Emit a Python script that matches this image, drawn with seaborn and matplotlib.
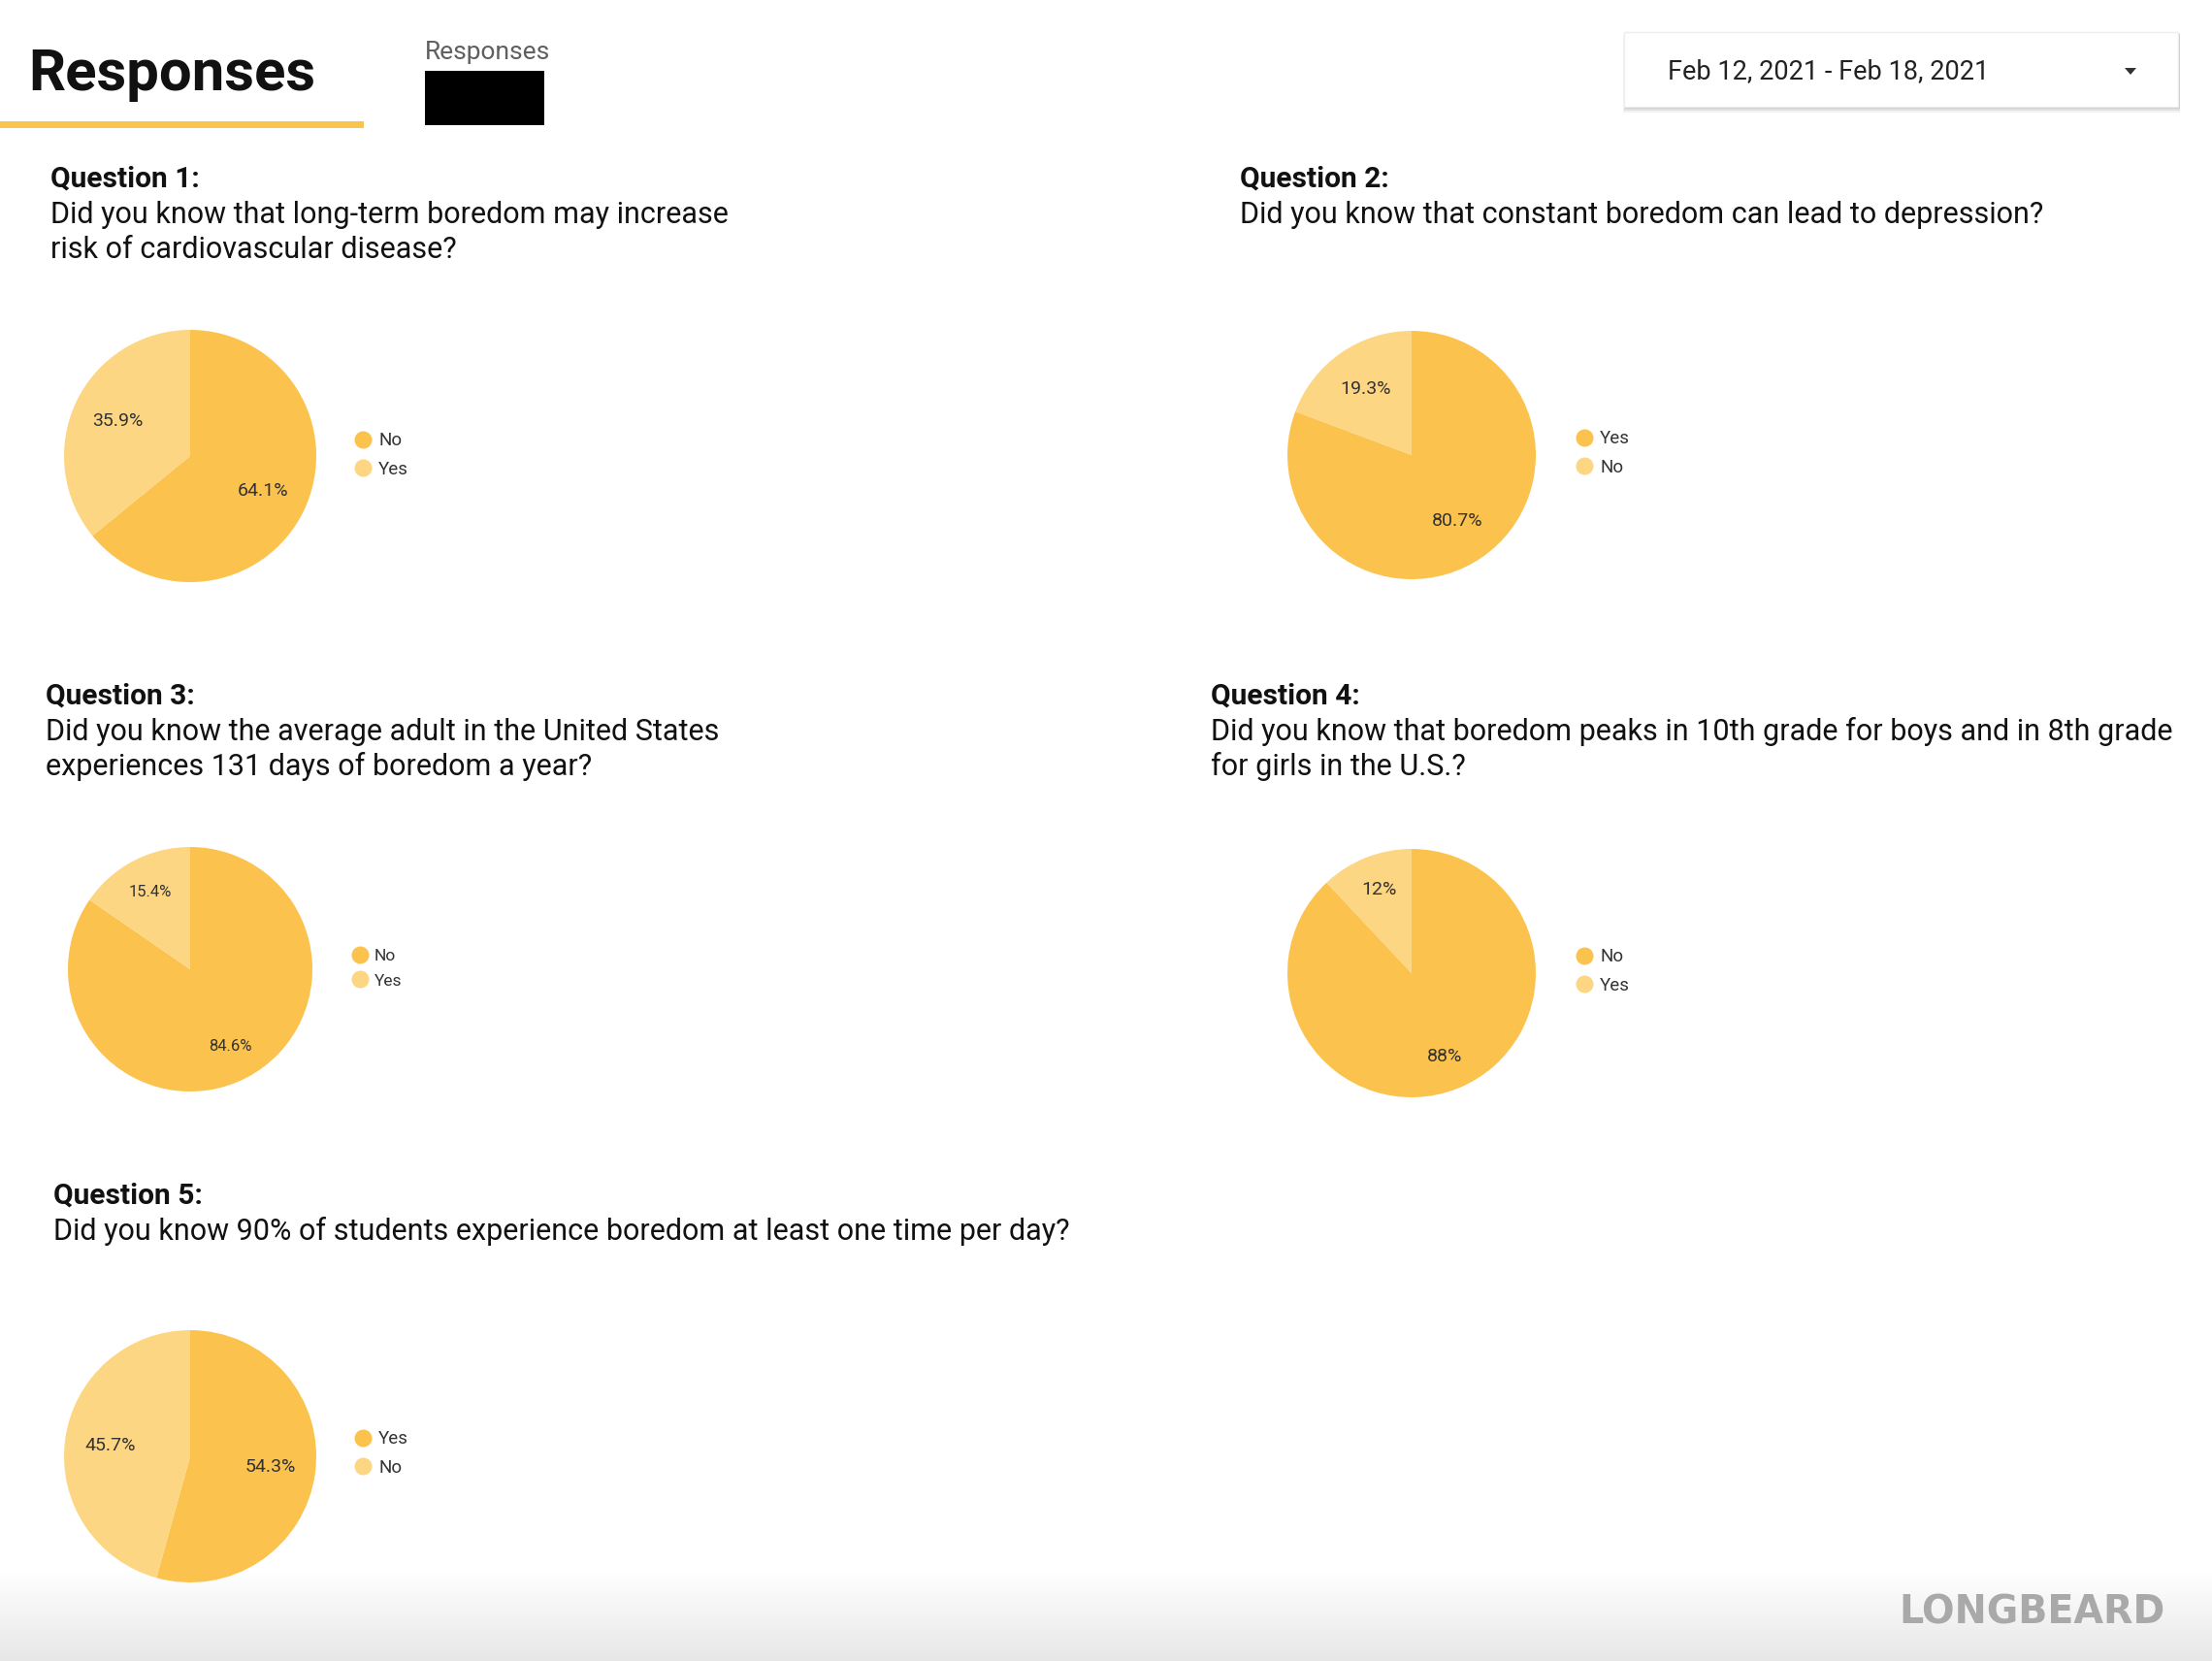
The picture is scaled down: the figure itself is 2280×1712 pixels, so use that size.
import matplotlib
matplotlib.use("Agg")
import numpy as np
import matplotlib.pyplot as plt
from matplotlib.lines import Line2D
from matplotlib.patches import Rectangle, Polygon
import seaborn as sns

# --- data -------------------------------------------------------------
q_titles = ["Question 1:", "Question 2:", "Question 3:", "Question 4:", "Question 5:"]
q_lines = [
    ["Did you know that long-term boredom may increase",
     "risk of cardiovascular disease?"],
    ["Did you know that constant boredom can lead to depression?"],
    ["Did you know the average adult in the United States",
     "experiences 131 days of boredom a year?"],
    ["Did you know that boredom peaks in 10th grade for boys and in 8th grade",
     "for girls in the U.S.?"],
    ["Did you know 90% of students experience boredom at least one time per day?"],
]
answer_labels = [
    ["No", "Yes"],
    ["Yes", "No"],
    ["No", "Yes"],
    ["No", "Yes"],
    ["Yes", "No"],
]
answer_pcts = [
    [64.1, 35.9],
    [80.7, 19.3],
    [84.6, 15.4],
    [88.0, 12.0],
    [54.3, 45.7],
]
date_range = "Feb 12, 2021 - Feb 18, 2021"

# --- layout (pixels on a 2280x1712 canvas) ---------------------------
W, H = 2280, 1712
text_pos = [(52, 185), (1278, 185), (47, 718), (1248, 718), (55, 1233)]
pie_pos = [(196, 470, 130), (1455, 469, 128), (196, 999, 126),
           (1455, 1003, 128), (196, 1501, 130)]
legend_pos = [(374, 469), (1633, 467), (371, 998), (1633, 1001), (374, 1498)]
pct_dist = [0.64, 0.65, 0.71, 0.72, 0.64]
pct_size = [14, 14, 12, 14, 14]
leg_size = [13.5, 13.5, 12.5, 13.5, 13.5]

sns.set_theme(style="white")
plt.rcParams['font.family'] = ['Roboto', 'DejaVu Sans']
palette = sns.color_palette(["#FBC34E", "#FDD683"])

fig = plt.figure(figsize=(W / 100, H / 100), dpi=100)
bg = fig.add_axes([0, 0, 1, 1])
bg.set_xlim(0, W)
bg.set_ylim(H, 0)
bg.axis('off')

# faint gray fade along the bottom edge
grad = np.linspace(0, 1, 100).reshape(-1, 1)
bg.imshow(grad, extent=[0, W, H, 1620], aspect='auto',
          cmap=sns.blend_palette(["#ffffff", "#e7e7e7"], as_cmap=True), zorder=0)

# header
bg.text(29, 93, "Responses", fontsize=43, fontweight='bold', color="#111111", va='baseline')
bg.add_patch(Rectangle((0, 125), 375, 7, color="#F9C54F", lw=0))
bg.text(438, 54, "Responses", fontsize=19, color="#5f5f5f", va='center')
bg.add_patch(Rectangle((438, 73), 123, 56, color="black", lw=0))

# date selector box with a soft shadow
for i, a in enumerate([0.05, 0.07, 0.10]):
    off = 3 - i
    bg.add_patch(Rectangle((1674 - off + 2, 33 + off), 571 + off, 77 + off,
                           color="black", alpha=a, lw=0))
bg.add_patch(Rectangle((1674, 33), 571, 77, facecolor="white", edgecolor="#eeeeee", lw=1))
bg.text(1719, 74, date_range, fontsize=19.5, color="#222222", va='center')
bg.add_patch(Polygon([(2190, 70), (2202, 70), (2196, 77)], color="#333333", lw=0))

# watermark
bg.text(2232, 1662, "LONGBEARD", fontsize=28.5, fontweight='bold', color="#a9a9a9",
        ha='right', va='center', family=['DejaVu Sans'])

for i in range(5):
    tx, ty = text_pos[i]
    bg.text(tx, ty, q_titles[i], fontsize=21.5, fontweight='bold', color="#111111", va='center')
    for j, line in enumerate(q_lines[i]):
        bg.text(tx, ty + 36 * (j + 1), line, fontsize=22, color="#111111", va='center')

    cx, cy, r = pie_pos[i]
    ax = fig.add_axes([(cx - r) / W, 1 - (cy + r) / H, 2 * r / W, 2 * r / H])
    ax.pie(answer_pcts[i], colors=palette, startangle=90, counterclock=False,
           autopct=lambda p: f"{round(p, 1):g}%", pctdistance=pct_dist[i],
           wedgeprops=dict(linewidth=0),
           textprops=dict(fontsize=pct_size[i], color="#333333"))
    ax.set_xlim(-1, 1)
    ax.set_ylim(-1, 1)
    ax.axis('off')

    handles = [Line2D([], [], marker='o', linestyle='', markersize=13,
                      markerfacecolor=c, markeredgewidth=0) for c in palette]
    lx, ly = legend_pos[i]
    ax.legend(handles, answer_labels[i], loc='center left',
              bbox_to_anchor=(lx - 9, ly), bbox_transform=bg.transData,
              frameon=False, borderpad=0, borderaxespad=0, handlelength=1.0,
              handletextpad=0.35, labelspacing=0.62, fontsize=leg_size[i],
              labelcolor="#333333")

fig.savefig("out.png", dpi=100)
